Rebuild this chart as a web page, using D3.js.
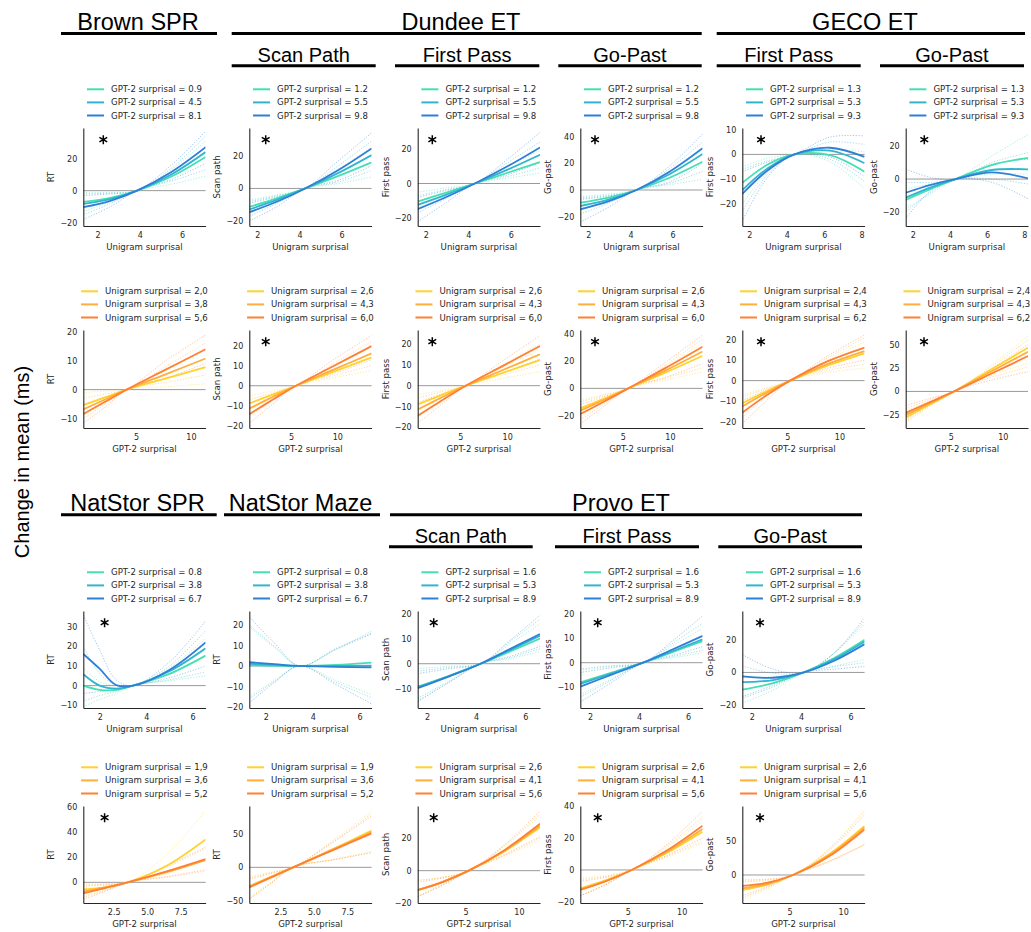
<!DOCTYPE html>
<html>
<head>
<meta charset="utf-8">
<script src="https://cdn.jsdelivr.net/npm/d3@7"></script>
<style>
  body { margin: 0; background: #fff; }
  svg { display: block; font-family: "DejaVu Sans", sans-serif; }
  .title { font-family: "Liberation Sans", Arial, sans-serif; fill: #000; }
</style>
</head>
<body>
<svg id="chart" width="1031" height="932"></svg>
<script>
// ---------- legend levels ----------
const brownGptLevels = ['0.9', '4.5', '8.1'];
const dundeeGptLevels = ['1.2', '5.5', '9.8'];
const gecoGptLevels = ['1.3', '5.3', '9.3'];
const brownUniLevels = ['2,0', '3,8', '5,6'];
const dundeeUniLevels = ['2,6', '4,3', '6,0'];
const gecoUniLevels = ['2,4', '4,3', '6,2'];
const natGptLevels = ['0.8', '3.8', '6.7'];
const provoGptLevels = ['1.6', '5.3', '8.9'];
const natUniLevels = ['1,9', '3,6', '5,2'];
const provoUniLevels = ['2,6', '4,1', '5,6'];

// ---------- tick labels ----------
const xt246 = [2, 4, 6];
const xt2468 = [2, 4, 6, 8];
const xt510 = [5, 10];
const xt25 = [2.5, 5.0, 7.5];
const ytA = [-20, 0, 20];
const ytB = [-20, 0, 20, 40];
const ytC = [-20, -10, 0, 10];
const ytD = [-10, 0, 10, 20];
const ytE = [-20, -10, 0, 10, 20];
const ytF = [-25, 0, 25, 50];
const ytG = [-10, 0, 10, 20, 30];
const ytH = [0, 20, 40, 60];
const ytI = [-50, 0, 50];
const ytJ = [0, 50];

// ---------- curves (x where read, fitted values, lower / upper bounds) ----------
// Brown SPR
const brownUniX = [1.32, 2.6, 3.87, 5.5, 7.12];
const brownUniFit = [[-7, -4.5, 0, 8.8, 21], [-8.2, -5.3, 0, 10.1, 24], [-10.3, -6.3, 0, 11.6, 27]];
const brownUniLo = [[-13, -7, 0, 4, 9], [-15, -8, 0, 6, 13], [-18, -10, 0, 7, 17]];
const brownUniHi = [[-1, -1, 0, 13, 31], [-2, -1.5, 0, 14, 34], [-3, -2, 0, 16, 37]];
const brownGptX = [0.2, 2.18, 4.15, 7.75, 11.34];
const brownGptFit = [[-5.3, -2.7, 0, 3.85, 7.7], [-6.8, -3.4, 0, 5.35, 10.7], [-8.4, -4.2, 0, 6.95, 13.9]];
const brownGptLo = [[-9, -4.5, 0, 1, 2], [-10, -5, 0, 2.5, 5], [-11.6, -6, 0, 4, 9]];
const brownGptHi = [[-1, -0.5, 0, 7, 14], [-3, -1.5, 0, 8, 16], [-5, -2.5, 0, 10, 18.8]];

// Dundee ET
const dunSpUniX = [1.62, 2.95, 4.27, 5.85, 7.42];
const dunSpUniFit = [[-11.3, -5.9, 0, 7.7, 16], [-12.9, -6.9, 0, 9.5, 20.4], [-14.5, -8, 0, 11.3, 24.5]];
const dunSpUniLo = [[-15, -8, 0, 3, 7], [-17, -9, 0, 4, 11], [-20, -11, 0, 5, 14]];
const dunSpUniHi = [[-7, -4, 0, 12, 25], [-8, -4.5, 0, 14, 29], [-9, -5, 0, 17, 34]];
const dunFpUniX = [1.62, 2.97, 4.31, 5.85, 7.38];
const dunFpUniFit = [[-10.4, -5.2, 0, 6.2, 12.4], [-12.3, -6.4, 0, 8, 16.6], [-14.8, -7.8, 0, 9.9, 20.8]];
const dunFpUniLo = [[-14, -7, 0, 3, 6], [-17, -8.5, 0, 4, 9], [-22, -11, 0, 5, 12]];
const dunFpUniHi = [[-5, -2.5, 0, 10, 19], [-7, -3.5, 0, 12, 24], [-8, -4, 0, 14, 29.5]];
const dunGpUniX = [1.62, 2.95, 4.28, 5.85, 7.42];
const dunGpUniFit = [[-9.5, -5.7, 0, 9.2, 21.2], [-12, -7.2, 0, 11.8, 27], [-14.5, -8.6, 0, 13.7, 31.3]];
const dunGpUniLo = [[-14, -8, 0, 4, 8], [-18, -10, 0, 5, 14], [-24, -13, 0, 6, 20]];
const dunGpUniHi = [[-5, -3, 0, 13, 30], [-6, -4, 0, 16, 36], [-7, -4.5, 0, 18, 42]];
const dunSpGptX = [0.5, 3.0, 5.54, 9.6, 13.7];
const dunSpGptFit = [[-8.8, -4.4, 0, 7, 14.1], [-11.3, -5.6, 0, 8, 16.1], [-14.1, -7, 0, 9.8, 19.7]];
const dunSpGptLo = [[-12, -6, 0, 4, 7.5], [-15, -7.5, 0, 5, 10], [-18.7, -9.3, 0, 6, 13]];
const dunSpGptHi = [[-5, -2.5, 0, 10, 20], [-7, -3.5, 0, 11, 22], [-9, -4.5, 0, 13, 25]];
const dunFpGptX = [0.47, 3.0, 5.6, 9.55, 13.5];
const dunFpGptFit = [[-9, -4.5, 0, 6.15, 12.3], [-11.4, -5.7, 0, 7.5, 15], [-14.4, -7.2, 0, 9.5, 19]];
const dunFpGptLo = [[-12, -6, 0, 3.5, 6.7], [-15, -7.5, 0, 5, 10], [-18, -9, 0, 6, 13]];
const dunFpGptHi = [[-4.5, -2.2, 0, 9, 17], [-6, -3, 0, 10, 20], [-8, -4, 0, 12, 24]];
const dunGpGptX = [0.52, 3.06, 5.6, 9.5, 13.45];
const dunGpGptFit = [[-14.6, -7.5, 0, 11.5, 23.9], [-16.3, -8.3, 0, 13, 27], [-18.8, -9.6, 0, 14.8, 30.5]];
const dunGpGptLo = [[-20, -10, 0, 6, 12], [-23, -11.5, 0, 7.5, 15], [-26, -13, 0, 8, 18]];
const dunGpGptHi = [[-9, -4.5, 0, 16, 33], [-10, -5, 0, 17, 36], [-12, -6, 0, 19, 39]];

// GECO ET
const gecoFpUniX = [1.62, 3.0, 4.41, 6.3, 8.16];
const gecoFpUniFit = [[-11.5, -4, 0, -0.3, -7], [-14.5, -5.5, 0, 1.5, -3.6], [-16, -6.3, 0, 2.7, -1]];
const gecoFpUniLo = [[-20, -7, 0, -3, -14], [-23, -8, 0, -2, -11], [-27, -9, 0, -1, -9]];
const gecoFpUniHi = [[-5, -1.5, 0, 2, 1], [-6, -2.5, 0, 5, 4], [-7, -3, 0, 7, 7.5]];
const gecoGpUniX = [1.62, 2.97, 4.31, 6.25, 8.2];
const gecoGpUniFit = [[-12.7, -6, 0, 8.5, 12.9], [-11.3, -5, 0, 5.5, 5.9], [-8.3, -3.5, 0, 4, 0.4]];
const gecoGpUniLo = [[-18, -9, 0, 3, 3], [-20, -8, 0, 0, -3], [-24, -7, 0, -2, -12]];
const gecoGpUniHi = [[-6, -3, 0, 14, 27], [-2, -2, 0, 10, 16], [6, 1, 0, 9, 12]];
const gecoFpGptX = [0.67, 2.96, 5.26, 8.84, 12.42];
const gecoFpGptFit = [[-11.1, -5.3, 0, 7.3, 13.4], [-12.7, -6, 0, 8.1, 14.5], [-15.7, -7.3, 0, 9.4, 16.2]];
const gecoFpGptLo = [[-15, -7, 0, 4, 6], [-18, -8, 0, 5, 8], [-21, -10, 0, 6, 10]];
const gecoFpGptHi = [[-7, -3.5, 0, 10, 19], [-8, -4, 0, 11, 21], [-10, -4.5, 0, 12, 22.4]];
const gecoGpGptX = [0.67, 3.0, 5.32, 8.88, 12.43];
const gecoGpGptFit = [[-27.8, -13.9, 0, 23.3, 46.6], [-25.3, -12.6, 0, 21.2, 42.3], [-22.8, -11.4, 0, 18.8, 37.7]];
const gecoGpGptLo = [[-33, -16, 0, 17, 30], [-32, -15, 0, 15, 26], [-30, -14, 0, 12, 21]];
const gecoGpGptHi = [[-21, -10.5, 0, 28, 59], [-18, -9, 0, 26, 55], [-15, -7.5, 0, 24, 50]];

// NatStor SPR / Maze
const natUniX = [1.29, 2.0, 2.7, 3.43, 5.0, 6.56];
const natUniFit = [[0, -2.2, -2.2, 0, 6, 15.3], [5.8, 0, -1.5, 0, 7.3, 19], [16.1, 8.5, 0.3, 0, 8, 22]];
const natUniLo = [[-10.7, -7, -4, 0, 2.5, 5], [-8, -5, -3, 0, 3, 7], [-4, -3, -1.5, 0, 4, 10]];
const natUniHi = [[9, 2, 0, 0, 9, 24], [20, 6, 0.5, 0, 10, 28], [36, 18, 3, 0, 12, 33]];
const mazeUniX = [1.3, 2.38, 3.45, 4.98, 6.51];
const mazeUniFit = [[0.3, 0.1, 0, 0.5, 1.6], [1, 0.5, 0, 0, 0.2], [1.8, 0.9, 0, -0.4, -0.7]];
const mazeUniLo = [[-15, -7, 0, -7, -14], [-16, -7.5, 0, -8, -15.5], [-18, -8, 0, -9, -18.5]];
const mazeUniHi = [[19, 9, 0, 8, 17], [20, 9.5, 0, 8.5, 16], [24, 11, 0, 8, 15.6]];
const natGptX = [0.23, 1.88, 3.54, 6.45, 9.36];
const natGptFit = [[-5.6, -4.05, 0, 13.2, 34.1], [-7.4, -3.9, 0, 8.1, 17.7], [-8.7, -4.5, 0, 8.75, 18.5]];
const natGptLo = [[-11, -6, 0, 7, 18], [-12, -6.5, 0, 4, 9], [-13.5, -7, 0, 4.5, 10]];
const natGptHi = [[-1, -1.2, 0, 22, 57], [-2, -1.5, 0, 12, 27], [-3, -2, 0, 13, 28]];
const mazeGptX = [0.17, 1.81, 3.45, 6.39, 9.32];
const mazeGptFit = [[-28, -14, 0, 27, 55], [-29, -14.5, 0, 26.5, 53], [-30, -15, 0, 25.5, 51]];
const mazeGptLo = [[-45, -22, 0, 12, 24], [-47, -23, 0, 11, 22], [-48, -24, 0, 11, 22]];
const mazeGptHi = [[-14, -7, 0, 40, 84], [-16, -8, 0, 38, 80], [-18, -9, 0, 37, 77]];

// Provo ET
const provoSpUniX = [1.62, 2.9, 4.18, 5.39, 6.6];
const provoSpUniFit = [[-9.3, -4.9, 0, 5, 10.2], [-9.5, -5, 0, 5.6, 11.3], [-9.9, -5.1, 0, 6, 12]];
const provoSpUniLo = [[-15, -7.5, 0, 2, 5], [-14, -7, 0, 2.5, 6], [-15.3, -7.5, 0, 3, 7]];
const provoSpUniHi = [[-2, -1, 0, 8, 16], [-3, -1.5, 0, 9, 18], [-4, -2, 0, 9.5, 19.6]];
const provoFpUniX = [1.6, 2.88, 4.16, 5.38, 6.59];
const provoFpUniFit = [[-8, -4, 0, 4.4, 8.8], [-8.6, -4.3, 0, 4.75, 9.5], [-9.7, -4.85, 0, 5.45, 10.9]];
const provoFpUniLo = [[-13, -6.5, 0, 2, 4], [-14, -7, 0, 2.5, 5], [-16, -8, 0, 3, 6.5]];
const provoFpUniHi = [[-3, -1.5, 0, 7, 14], [-2.5, -1.2, 0, 8, 16], [-4, -2, 0, 9, 19]];
const provoGpUniX = [1.62, 2.87, 4.11, 5.34, 6.57];
const provoGpUniFit = [[-10.7, -6.6, 0, 8.9, 20.2], [-6, -4.7, 0, 8.2, 19.2], [-2.5, -3.3, 0, 7.2, 17.5]];
const provoGpUniLo = [[-19, -11, 0, 4, 8], [-16, -9, 0, 3.5, 6], [-15, -8, 0, 2, 3.7]];
const provoGpUniHi = [[-3, -2.5, 0, 12, 30], [4, -0.5, 0, 12, 32], [11, 2, 0, 12, 34]];
const provoSpGptX = [0.53, 2.92, 5.31, 8.64, 11.97];
const provoSpGptFit = [[-12, -6.75, 0, 11.9, 26.7], [-12, -6.8, 0, 12.3, 27.7], [-12, -6.9, 0, 12.7, 29]];
const provoSpGptLo = [[-16, -8, 0, 9, 18.6], [-16, -8.5, 0, 9.5, 20], [-16, -9, 0, 10, 21]];
const provoSpGptHi = [[-6, -4, 0, 15, 34], [-6, -4, 0, 15.5, 35], [-7, -4.5, 0, 16, 37]];
const provoFpGptX = [0.61, 2.99, 5.37, 8.66, 11.94];
const provoFpGptFit = [[-11.4, -6.3, 0, 10.7, 23.8], [-12, -6.7, 0, 11.45, 25.5], [-12.4, -7, 0, 12.2, 27.5]];
const provoFpGptLo = [[-16, -8.5, 0, 8, 16.6], [-16, -9, 0, 8.5, 18], [-16, -9, 0, 9, 20]];
const provoFpGptHi = [[-5, -3.5, 0, 14, 31], [-6, -4, 0, 15, 33], [-7, -4.5, 0, 16, 36.6]];
const provoGpGptX = [0.6, 2.96, 5.32, 8.66, 12];
const provoGpGptFit = [[-21.8, -13.9, 0, 29.8, 71.4], [-19.4, -12.8, 0, 28.6, 69.4], [-16, -11.2, 0, 26.8, 66.5]];
const provoGpGptLo = [[-36, -20, 0, 20, 44], [-33, -18, 0, 20, 45], [-30, -17, 0, 19, 44]];
const provoGpGptHi = [[-10, -8, 0, 38, 95], [-9, -7, 0, 37, 92], [-7, -6, 0, 35, 88]];

// ---------- layout ----------
const colX = [83.3, 249.3, 417.7, 580.3, 742.3, 905.7];
const rowY = [[128, 226], [330, 428], [611, 708], [806, 903]];
const panelW = 122.3;
const coolColors = ['#44dfb2', '#31b5cf', '#2f7fd9'];
const warmColors = ['#ffd22c', '#ffae3b', '#ff7f33'];

// row 0/2: legend = GPT-2 levels, x = unigram; row 1/3: the opposite
const panels = [
  {r: 0, c: 0, xd: [1.32, 7.12], yd: [-22, 39], xs: brownUniX, fit: brownUniFit, lo: brownUniLo, hi: brownUniHi, xt: xt246, yt: ytA, ylab: 'RT', lev: brownGptLevels, star: 20},
  {r: 0, c: 1, xd: [1.62, 7.42], yd: [-23, 37], xs: dunSpUniX, fit: dunSpUniFit, lo: dunSpUniLo, hi: dunSpUniHi, xt: xt246, yt: ytA, ylab: 'Scan path', lev: dundeeGptLevels, star: 16.4},
  {r: 0, c: 2, xd: [1.62, 7.38], yd: [-24.5, 32], xs: dunFpUniX, fit: dunFpUniFit, lo: dunFpUniLo, hi: dunFpUniHi, xt: xt246, yt: ytA, ylab: 'First pass', lev: dundeeGptLevels, star: 14.6},
  {r: 0, c: 3, xd: [1.62, 7.42], yd: [-27, 46.5], xs: dunGpUniX, fit: dunGpUniFit, lo: dunGpUniLo, hi: dunGpUniHi, xt: xt246, yt: ytB, ylab: 'Go-past', lev: dundeeGptLevels, star: 14.7},
  {r: 0, c: 4, xd: [1.62, 8.16], yd: [-29, 10.7], xs: gecoFpUniX, fit: gecoFpUniFit, lo: gecoFpUniLo, hi: gecoFpUniHi, xt: xt2468, yt: ytC, ylab: 'First pass', lev: gecoGptLevels, star: 18.7},
  {r: 0, c: 5, xd: [1.62, 8.2], yd: [-28.5, 31], xs: gecoGpUniX, fit: gecoGpUniFit, lo: gecoGpUniLo, hi: gecoGpUniHi, xt: xt2468, yt: ytA, ylab: 'Go-past', lev: gecoGptLevels, star: 18.6},

  {r: 1, c: 0, xd: [0.2, 11.34], yd: [-13.2, 20.5], xs: brownGptX, fit: brownGptFit, lo: brownGptLo, hi: brownGptHi, xt: xt510, yt: ytD, ylab: 'RT', lev: brownUniLevels, star: null},
  {r: 1, c: 1, xd: [0.5, 13.7], yd: [-21, 27.7], xs: dunSpGptX, fit: dunSpGptFit, lo: dunSpGptLo, hi: dunSpGptHi, xt: xt510, yt: ytE, ylab: 'Scan path', lev: dundeeUniLevels, star: 16.4},
  {r: 1, c: 2, xd: [0.47, 13.5], yd: [-20.3, 26.7], xs: dunFpGptX, fit: dunFpGptFit, lo: dunFpGptLo, hi: dunFpGptHi, xt: xt510, yt: ytE, ylab: 'First pass', lev: dundeeUniLevels, star: 14.6},
  {r: 1, c: 3, xd: [0.52, 13.45], yd: [-29, 42.7], xs: dunGpGptX, fit: dunGpGptFit, lo: dunGpGptLo, hi: dunGpGptHi, xt: xt510, yt: ytB, ylab: 'Go-past', lev: dundeeUniLevels, star: 14.7},
  {r: 1, c: 4, xd: [0.67, 12.42], yd: [-23.2, 24.8], xs: gecoFpGptX, fit: gecoFpGptFit, lo: gecoFpGptLo, hi: gecoFpGptHi, xt: xt510, yt: ytE, ylab: 'First pass', lev: gecoUniLevels, star: 18.7},
  {r: 1, c: 5, xd: [0.67, 12.43], yd: [-39, 65.5], xs: gecoGpGptX, fit: gecoGpGptFit, lo: gecoGpGptLo, hi: gecoGpGptHi, xt: xt510, yt: ytF, ylab: 'Go-past', lev: gecoUniLevels, star: 18.3},

  {r: 2, c: 0, xd: [1.29, 6.56], yd: [-11.4, 38], xs: natUniX, fit: natUniFit, lo: natUniLo, hi: natUniHi, xt: xt246, yt: ytG, ylab: 'RT', lev: natGptLevels, star: 21.3},
  {r: 2, c: 1, xd: [1.3, 6.51], yd: [-20.5, 26.8], xs: mazeUniX, fit: mazeUniFit, lo: mazeUniLo, hi: mazeUniHi, xt: xt246, yt: ytE, ylab: 'RT', lev: natGptLevels, star: null},
  {r: 2, c: 2, xd: [1.62, 6.6], yd: [-17.9, 21.3], xs: provoSpUniX, fit: provoSpUniFit, lo: provoSpUniLo, hi: provoSpUniHi, xt: xt246, yt: ytD, ylab: 'Scan path', lev: provoGptLevels, star: 16},
  {r: 2, c: 3, xd: [1.6, 6.59], yd: [-18.4, 21], xs: provoFpUniX, fit: provoFpUniFit, lo: provoFpUniLo, hi: provoFpUniHi, xt: xt246, yt: ytD, ylab: 'First pass', lev: provoGptLevels, star: 17.4},
  {r: 2, c: 4, xd: [1.62, 6.57], yd: [-22, 38], xs: provoGpUniX, fit: provoGpUniFit, lo: provoGpUniLo, hi: provoGpUniHi, xt: xt246, yt: ytA, ylab: 'Go-past', lev: provoGptLevels, star: 17.7},

  {r: 3, c: 0, xd: [0.23, 9.36], yd: [-16.4, 60.6], xs: natGptX, fit: natGptFit, lo: natGptLo, hi: natGptHi, xt: xt25, yt: ytH, ylab: 'RT', lev: natUniLevels, star: 21.3},
  {r: 3, c: 1, xd: [0.17, 9.32], yd: [-53.5, 92], xs: mazeGptX, fit: mazeGptFit, lo: mazeGptLo, hi: mazeGptHi, xt: xt25, yt: ytI, ylab: 'RT', lev: natUniLevels, star: null},
  {r: 3, c: 2, xd: [0.53, 11.97], yd: [-20, 40], xs: provoSpGptX, fit: provoSpGptFit, lo: provoSpGptLo, hi: provoSpGptHi, xt: xt510, yt: ytA, ylab: 'Scan path', lev: provoUniLevels, star: 16},
  {r: 3, c: 3, xd: [0.61, 11.94], yd: [-20.5, 39.7], xs: provoFpGptX, fit: provoFpGptFit, lo: provoFpGptLo, hi: provoFpGptHi, xt: xt510, yt: ytB, ylab: 'First pass', lev: provoUniLevels, star: 17.4},
  {r: 3, c: 4, xd: [0.6, 12], yd: [-40.8, 100.5], xs: provoGpGptX, fit: provoGpGptFit, lo: provoGpGptLo, hi: provoGpGptHi, xt: xt510, yt: ytJ, ylab: 'Go-past', lev: provoUniLevels, star: 17.7}
];

const groupTitles = [
  {t: 'Brown SPR', cx: 138, x1: 61, x2: 217, y: 29.5},
  {t: 'Dundee ET', cx: 461, x1: 231.7, x2: 701.7, y: 29.5},
  {t: 'GECO ET', cx: 865, x1: 716.7, x2: 1025, y: 29.5},
  {t: 'NatStor SPR', cx: 137.5, x1: 61, x2: 216.7, y: 510.7},
  {t: 'NatStor Maze', cx: 300.5, x1: 224, x2: 380, y: 510.7},
  {t: 'Provo ET', cx: 621, x1: 390, x2: 862, y: 510.7}
];
const subTitles = [
  {t: 'Scan Path', x1: 231.7, x2: 375.7, y: 61.7},
  {t: 'First Pass', x1: 395, x2: 539.3, y: 61.7},
  {t: 'Go-Past', x1: 558.3, x2: 701.7, y: 61.7},
  {t: 'First Pass', x1: 716.7, x2: 860.7, y: 61.7},
  {t: 'Go-Past', x1: 880, x2: 1024, y: 61.7},
  {t: 'Scan Path', x1: 389, x2: 532.7, y: 542.7},
  {t: 'First Pass', x1: 555, x2: 699, y: 542.7},
  {t: 'Go-Past', x1: 718.3, x2: 862, y: 542.7}
];

const svg = d3.select('#chart');

// titles
groupTitles.forEach(d => {
  svg.append('text').attr('class', 'title').attr('x', d.cx).attr('y', d.y)
    .attr('text-anchor', 'middle').style('font-size', '23.5px').text(d.t);
  svg.append('line').attr('x1', d.x1).attr('x2', d.x2).attr('y1', d.y + 4).attr('y2', d.y + 4)
    .attr('stroke', '#000').attr('stroke-width', 3);
});
subTitles.forEach(d => {
  svg.append('text').attr('class', 'title').attr('x', (d.x1 + d.x2) / 2).attr('y', d.y)
    .attr('text-anchor', 'middle').style('font-size', '20px').text(d.t);
  svg.append('line').attr('x1', d.x1).attr('x2', d.x2).attr('y1', d.y + 4).attr('y2', d.y + 4)
    .attr('stroke', '#000').attr('stroke-width', 3);
});

svg.append('text').attr('class', 'title')
  .attr('transform', 'translate(29,462) rotate(-90)')
  .attr('text-anchor', 'middle').style('font-size', '20px')
  .text('Change in mean (ms)');

panels.forEach((p, idx) => {
  const top = rowY[p.r][0], h = rowY[p.r][1] - top;
  const w = panelW;
  const g = svg.append('g').attr('transform', `translate(${colX[p.c]},${top})`);
  const x = d3.scaleLinear().domain(p.xd).range([0, w]);
  const y = d3.scaleLinear().domain(p.yd).range([h, 0]);
  const gptLegend = p.r % 2 === 0;
  const colors = gptLegend ? coolColors : warmColors;
  const legName = gptLegend ? 'GPT-2 surprisal' : 'Unigram surprisal';
  const xName = gptLegend ? 'Unigram surprisal' : 'GPT-2 surprisal';

  g.append('clipPath').attr('id', 'clip' + idx)
    .append('rect').attr('x', 0).attr('y', 0).attr('width', w).attr('height', h);

  // zero reference
  g.append('line').attr('x1', 0).attr('x2', w).attr('y1', y(0)).attr('y2', y(0))
    .attr('stroke', '#9a9a9a').attr('stroke-width', 1);

  const line = d3.line().x((d, i) => x(p.xs[i])).y(d => y(d)).curve(d3.curveCatmullRom);
  const plot = g.append('g').attr('clip-path', `url(#clip${idx})`);

  // confidence bounds (dotted)
  [p.lo, p.hi].forEach(set => {
    plot.selectAll(null).data(set).enter().append('path')
      .attr('d', line).attr('fill', 'none')
      .attr('stroke', (d, i) => colors[i]).attr('stroke-opacity', 0.5)
      .attr('stroke-width', 0.9).attr('stroke-dasharray', '1.2,1.6');
  });
  // fitted curves
  plot.selectAll(null).data(p.fit).enter().append('path')
    .attr('d', line).attr('fill', 'none')
    .attr('stroke', (d, i) => colors[i]).attr('stroke-width', 1.8);

  // axes
  const yAxis = g.append('g').call(d3.axisLeft(y).tickValues(p.yt).tickSize(0).tickPadding(6)
    .tickSizeOuter(0).tickFormat(d3.format('d')));
  const fmtX = p.xt.some(v => v % 1 !== 0) ? d3.format('.1f') : d3.format('d');
  const xAxis = g.append('g').attr('transform', `translate(0,${h})`)
    .call(d3.axisBottom(x).tickValues(p.xt).tickSize(0).tickPadding(6).tickSizeOuter(0).tickFormat(fmtX));
  [yAxis, xAxis].forEach(a => {
    a.select('.domain').attr('stroke', '#262626').attr('stroke-width', 1.1);
    a.selectAll('text').attr('fill', '#262626').style('font-size', '8px')
      .style('font-family', '"DejaVu Sans", sans-serif');
  });

  // axis labels
  g.append('text').attr('x', w / 2).attr('y', h + 24).attr('text-anchor', 'middle')
    .attr('fill', '#262626').style('font-size', '8.6px').text(xName);
  g.append('text').attr('transform', `translate(-32,${h / 2}) rotate(-90)`)
    .attr('text-anchor', 'middle').attr('dy', '0.35em')
    .attr('fill', '#262626').style('font-size', '8.6px').text(p.ylab);

  // significance marker
  if (p.star !== null) {
    g.append('path').attr('d', d3.symbol(d3.symbolAsterisk, 57)())
      .attr('transform', `translate(${p.star},11.7)`)
      .attr('fill', 'none').attr('stroke', '#000').attr('stroke-width', 1.5);
  }

  // legend, centred above the panel
  const leg = g.append('g');
  const items = leg.selectAll('g').data(p.lev).enter().append('g')
    .attr('transform', (d, i) => `translate(0,${-38.7 + i * 13.1})`);
  items.append('line').attr('x1', 0).attr('x2', 17).attr('y1', 0).attr('y2', 0)
    .attr('stroke', (d, i) => colors[i]).attr('stroke-width', 2);
  items.append('text').attr('x', 24).attr('dy', '0.35em').attr('fill', '#262626')
    .style('font-size', '8.6px').text(d => `${legName} = ${d}`);
  let maxW = 0;
  items.selectAll('text').each(function () { maxW = Math.max(maxW, this.getComputedTextLength()); });
  leg.attr('transform', `translate(${w / 2 - (24 + maxW) / 2},0)`);
});
</script>
</body>
</html>
